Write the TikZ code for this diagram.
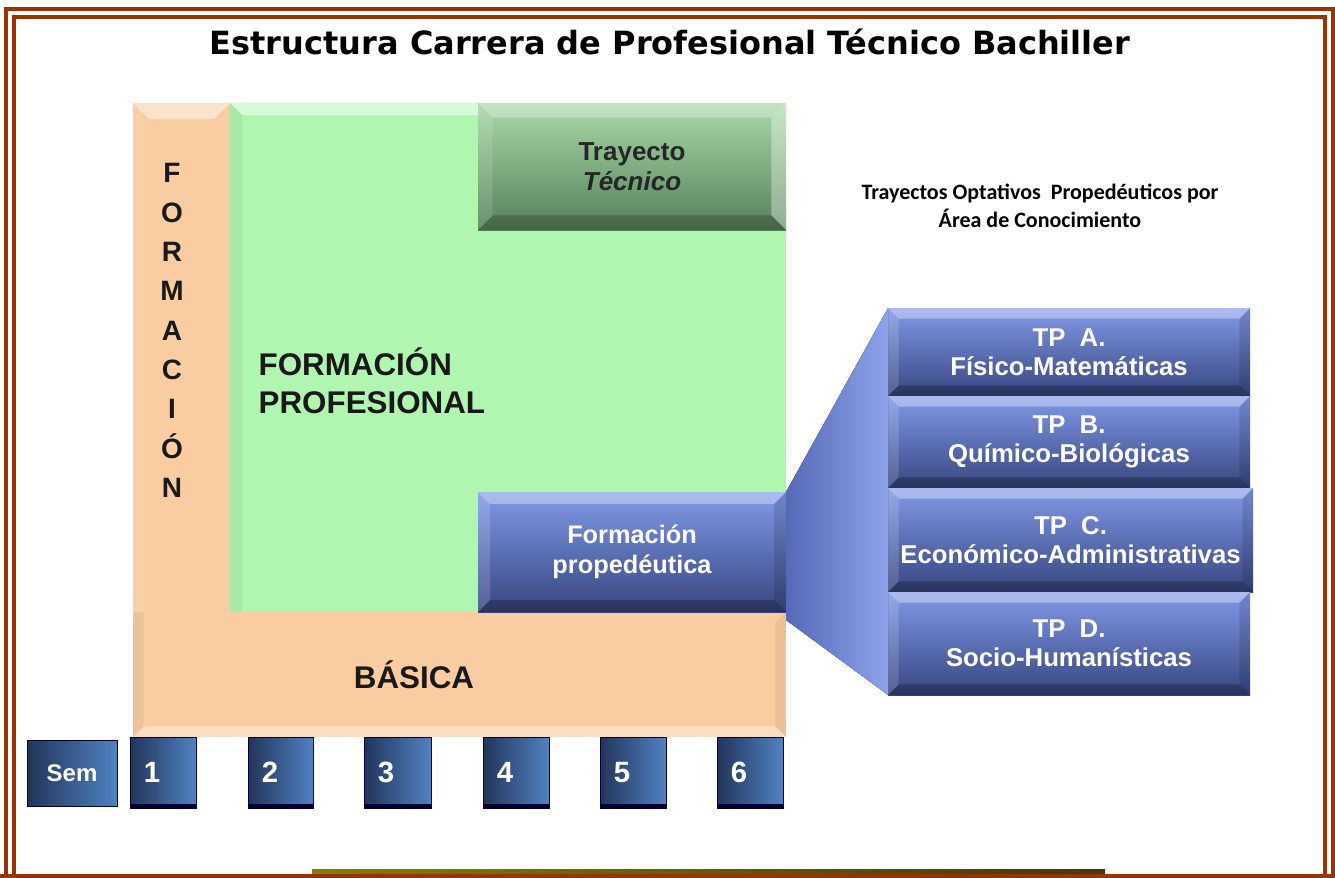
\documentclass[tikz,border=0pt]{standalone}
\usepackage{fontspec}
\setmainfont{Liberation Sans}
\newfontfamily\titlefont{DejaVu Sans}
\newfontfamily\calfont{Carlito}
\usetikzlibrary{fit}
\definecolor{brn}{HTML}{993300}
\definecolor{peach}{HTML}{F9CDA1}
\definecolor{mint}{HTML}{B0F6B0}
\definecolor{bltop}{HTML}{8199E8}
\definecolor{blmid}{HTML}{5569B8}
\definecolor{blbot}{HTML}{374680}
\definecolor{gntop}{HTML}{A9D9A9}
\definecolor{gnbot}{HTML}{56805A}
\definecolor{semL}{HTML}{22355A}
\definecolor{semR}{HTML}{5082C2}
\definecolor{oliveL}{HTML}{7F7F00}
\definecolor{oliveR}{HTML}{3C3C08}
\newcommand\bevtop[3][.35]{\fill[white,opacity=#1] (#2.north west) -- (#2.north east) -- ([shift={(-#3,-#3)}]#2.north east) -- ([shift={(#3,-#3)}]#2.north west) -- cycle;}
\newcommand\bevleft[3][.15]{\fill[white,opacity=#1] (#2.north west) -- ([shift={(#3,-#3)}]#2.north west) -- ([shift={(#3,#3)}]#2.south west) -- (#2.south west) -- cycle;}
\newcommand\bevright[3][.12]{\fill[black,opacity=#1] (#2.north east) -- ([shift={(-#3,-#3)}]#2.north east) -- ([shift={(-#3,#3)}]#2.south east) -- (#2.south east) -- cycle;}
\newcommand\bevbot[3][.25]{\fill[black,opacity=#1] (#2.south west) -- ([shift={(#3,#3)}]#2.south west) -- ([shift={(-#3,#3)}]#2.south east) -- (#2.south east) -- cycle;}
\newcommand\bevall[2]{\bevtop{#1}{#2}\bevleft{#1}{#2}\bevright{#1}{#2}\bevbot{#1}{#2}}
\begin{document}
\begin{tikzpicture}[x=0.75pt,y=-0.75pt,
  box/.style={inner sep=0pt,outer sep=0pt,draw=none},
  bluebox/.style={box,top color=bltop,middle color=blmid,bottom color=blbot},
  tptext/.style={text=white,font=\bfseries\fontsize{19.3}{22}\selectfont,align=center},
  semnum/.style={box,left color=semL,right color=semR,draw=black!80!blue,line width=0.6pt},
  numtext/.style={text=white,font=\bfseries\fontsize{22}{22}\selectfont},
  bigtext/.style={font=\bfseries\fontsize{23.5}{28.5}\selectfont,text=black!90}]
\useasboundingbox (0,0) rectangle (1335,878);
\fill[white] (0,0) rectangle (1335,878);
% frame
\draw[brn,line width=3pt] (6,876) -- (6,8.5) -- (1333,8.5) -- (1333,876);
\draw[brn,line width=3pt] (14,878) -- (14,16.5) -- (1325,16.5) -- (1325,878);
\fill[left color=oliveL,right color=oliveR] (312,869.5) rectangle (1105,874);
\fill[brn] (0,874) rectangle (1335,878);
% title
\node[font=\titlefont\bfseries\fontsize{24}{26}\selectfont] (title) at (670,42) {Estructura Carrera de Profesional Técnico Bachiller};
% orange L
\node[box,fill=peach,fit={(133,103) (230,737)}] (col) {};
\node[box,fill=peach,fit={(133,612) (786,737)}] (bas) {};
\bevtop[.45]{col}{12pt}
\bevleft[.06]{col}{8pt}
\fill[black,opacity=.06] (bas.north west) -- ([shift={(8pt,0pt)}]bas.north west) -- ([shift={(8pt,8pt)}]bas.south west) -- (bas.south west) -- cycle;
\fill[white,opacity=.35] (bas.south west) -- ([shift={(8pt,8pt)}]bas.south west) -- ([shift={(-8pt,8pt)}]bas.south east) -- (bas.south east) -- cycle;
\fill[black,opacity=.06] (bas.north east) -- ([shift={(-8pt,-8pt)}]bas.north east) -- ([shift={(-8pt,8pt)}]bas.south east) -- (bas.south east) -- cycle;
% green
\node[box,fill=mint,fit={(230,103) (786,612)}] (prof) {};
\bevtop[.5]{prof}{9pt}
\fill[black,opacity=.05] (prof.north west) -- ([shift={(9pt,-9pt)}]prof.north west) -- ([shift={(9pt,0pt)}]prof.south west) -- (prof.south west) -- cycle;
% trayecto tecnico
\node[box,top color=gntop,bottom color=gnbot,fit={(478,103) (786,230)}] (tt) {};
\bevtop[.3]{tt}{11pt}
\bevleft[.12]{tt}{11pt}
\fill[white,opacity=.35] (tt.north east) -- ([shift={(-11pt,-11pt)}]tt.north east) -- ([shift={(-11pt,11pt)}]tt.south east) -- (tt.south east) -- cycle;
\bevbot[.2]{tt}{11pt}
% blue boxes and funnel
\node[bluebox,fit={(478,492) (786,612)}] (prop) {};
\node[bluebox,fit={(888,308) (1250,396)}] (tpa) {};
\node[bluebox,fit={(888,396) (1250,488)}] (tpb) {};
\node[bluebox,fit={(888,488) (1253,592)}] (tpc) {};
\node[bluebox,fit={(888,592) (1250,695)}] (tpd) {};
\fill[left color=blmid,right color=bltop!90!white] (prop.north east) -- (tpa.north west) -- (tpd.south west) -- ([yshift=-6pt]prop.south east) -- cycle;
\bevall{prop}{9pt}
\bevall{tpa}{8pt}
\bevall{tpb}{8pt}
\bevall{tpc}{8pt}
\bevall{tpd}{8pt}
% texts
\node[font=\bfseries\fontsize{21}{29.5}\selectfont,align=center,text=black!90] (formv) at (172,330.5) {F\\O\\R\\M\\A\\C\\I\\Ó\\N};
\node[bigtext,anchor=west,align=left] (fp) at (254,381) {FORMACIÓN\\PROFESIONAL};
\node[bigtext] (bastext) at (414,675) {BÁSICA};
\node[font=\bfseries\fontsize{19.5}{22.5}\selectfont,align=center,text=black!85] (tttext) at (tt.center) {Trayecto\\\textit{Técnico}};
\node[text=white,font=\bfseries\fontsize{19}{22.5}\selectfont,align=center] (proptext) at (prop.center) {Formación\\propedéutica};
\node[tptext] (tpatext) at (tpa.center) {TP\ \ A.\\Físico-Matemáticas};
\node[tptext] (tpbtext) at (tpb.center) {TP\ \ B.\\Químico-Biológicas};
\node[tptext] (tpctext) at (tpc.center) {TP\ \ C.\\Económico-Administrativas};
\node[tptext] (tpdtext) at (tpd.center) {TP\ \ D.\\Socio-Humanísticas};
\node[font=\calfont\bfseries\fontsize{16.5}{21}\selectfont,align=center] (opt) at (1040,206) {Trayectos Optativos\ \ Propedéuticos por\\Área de Conocimiento};
% semesters
\node[semnum,fit={(27,740) (117,806)}] (sem) {};
\node[text=white,font=\bfseries\fontsize{18}{18}\selectfont] (semtext) at (sem.center) {Sem};
\foreach \i/\xa/\xb in {1/130/196,2/248/313,3/364/431,4/483/549,5/600/666,6/717/783}{
  \node[semnum,fit={(\xa,737) (\xb,808)}] (s\i) {};
  \fill[black!80!blue] ([yshift=3pt]s\i.south west) rectangle (s\i.south east);
  \node[numtext] (n\i) at ([xshift=16.5pt]s\i.west) {\i};
}
\end{tikzpicture}
\end{document}
